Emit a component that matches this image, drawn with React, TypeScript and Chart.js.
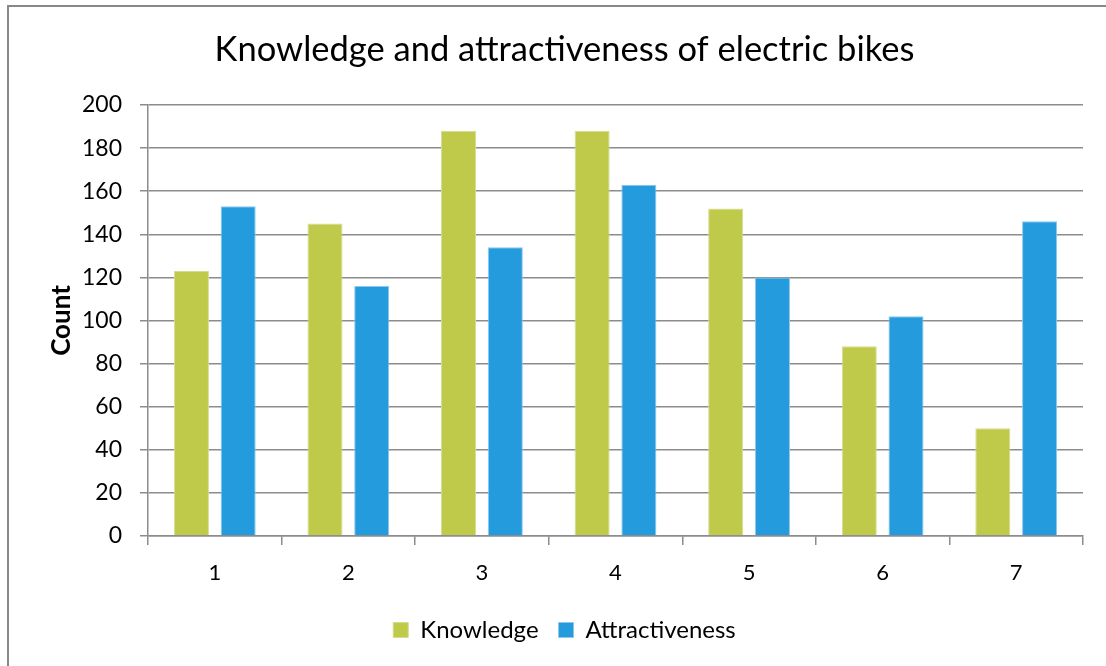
import React, { useEffect, useRef } from "react";
import { Chart, registerables } from "chart.js";

Chart.register(...registerables);

const categories = ["1", "2", "3", "4", "5", "6", "7"];
const knowledge = [123, 145, 188, 188, 152, 88, 50];
const attractiveness = [153, 116, 134, 163, 120, 102, 146];
const titleText = "Knowledge and attractiveness of electric bikes";
const yTitle = "Count";
const seriesNames = ["Knowledge", "Attractiveness"];

const FONT = "Lato, 'Open Sans', sans-serif";
const GRID = "#8c8c8c";

export default function App() {
  const ref = useRef<HTMLCanvasElement | null>(null);

  useEffect(() => {
    if (!ref.current) return;
    const chart = new Chart(ref.current, {
      type: "bar",
      data: {
        labels: categories,
        datasets: [
          {
            label: seriesNames[0],
            data: knowledge,
            backgroundColor: "#bfc94a",
            borderColor: "#d6dc8f",
            borderWidth: 1,
            categoryPercentage: 0.7,
            barPercentage: 0.75,
          },
          {
            label: seriesNames[1],
            data: attractiveness,
            backgroundColor: "#249bdc",
            borderColor: "#8cc9ec",
            borderWidth: 1,
            categoryPercentage: 0.7,
            barPercentage: 0.75,
          },
        ],
      },
      options: {
        animation: false,
        responsive: false,
        maintainAspectRatio: false,
        layout: { padding: { left: 46, right: 23, top: 0, bottom: 14 } },
        plugins: {
          title: {
            display: true,
            text: titleText,
            color: "#000",
            font: { family: FONT, size: 34.5, weight: "normal" },
            padding: { top: 29, bottom: 34.6 },
          },
          legend: {
            position: "bottom",
            labels: {
              color: "#000",
              font: { family: FONT, size: 24 },
              boxWidth: 15,
              boxHeight: 15,
              padding: 20,
            },
          },
          tooltip: { enabled: false },
        },
        scales: {
          x: {
            afterFit: (s: any) => {
              s.height = 62;
            },
            grid: {
              display: true,
              drawOnChartArea: false,
              drawTicks: true,
              tickLength: 9,
              offset: true,
              color: GRID,
              lineWidth: 1.5,
            },
            border: { display: true, color: GRID, width: 1.5 },
            ticks: {
              color: "#000",
              font: { family: FONT, size: 22 },
              padding: 15,
            },
          },
          y: {
            min: 0,
            max: 200,
            afterFit: (s: any) => {
              s.width = 102;
            },
            ticks: {
              stepSize: 20,
              color: "#000",
              font: { family: FONT, size: 23 },
              padding: 18,
            },
            grid: {
              color: GRID,
              lineWidth: 1.5,
              tickLength: 8,
              drawTicks: true,
            },
            border: { display: true, color: GRID, width: 1.5 },
            title: {
              display: true,
              text: yTitle,
              color: "#000",
              font: { family: FONT, size: 26, weight: "bold" },
              padding: 0,
            },
          },
        },
      },
    });
    return () => chart.destroy();
  }, []);

  return (
    <div style={{ position: "absolute", left: 0, top: 0, width: 1106, height: 666, overflow: "hidden", background: "#fff" }}>
      <div
        style={{
          position: "absolute",
          left: 7,
          top: 5,
          width: 1200,
          height: 800,
          border: "2px solid #888",
          boxSizing: "border-box",
        }}
      />
      <canvas ref={ref} width={1106} height={666} style={{ position: "absolute", left: 0, top: 0, width: 1106, height: 666 }} />
    </div>
  );
}
